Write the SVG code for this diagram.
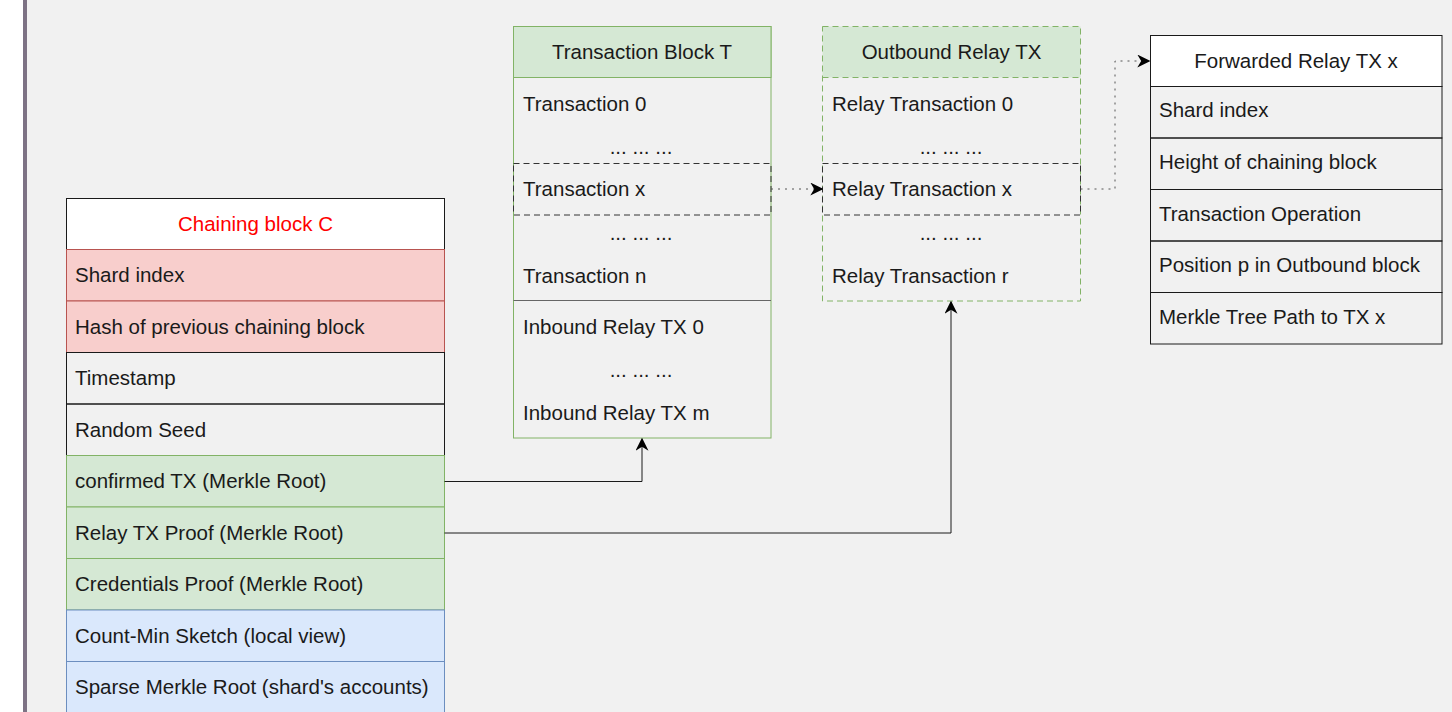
<svg xmlns="http://www.w3.org/2000/svg" width="1452" height="712" viewBox="0 0 1452 712">
  <defs>
    <style>
      text { font-family: "Liberation Sans", Arial, Helvetica, sans-serif; font-size: 20.5px; fill: #1a1a1a; dominant-baseline: central; }
      .mid { text-anchor: middle; }
      .red { fill: #f8cecc; stroke: #b85450; stroke-width: 1; }
      .green { fill: #d5e8d4; stroke: #82b366; stroke-width: 1; }
      .blue { fill: #dae8fc; stroke: #6c8ebf; stroke-width: 1; }
      .plain { fill: none; stroke: #1a1a1a; stroke-width: 1; }
      .white { fill: #ffffff; stroke: #1a1a1a; stroke-width: 1; }
      .sel { fill: none; stroke: #333333; stroke-width: 1; stroke-dasharray: 6 4; }
      .link { fill: none; stroke: #1a1a1a; stroke-width: 1; }
      .dot { fill: none; stroke: #555555; stroke-width: 1; stroke-dasharray: 2 5; }
    </style>
    <marker id="arrowBig" viewBox="0 0 10 10" refX="9" refY="5" markerWidth="13" markerHeight="13" markerUnits="userSpaceOnUse" orient="auto">
      <path d="M0,0 L10,5 L0,10 L3,5 Z" fill="#000000"/>
    </marker>
  </defs>

  <!-- page and side rule -->
  <rect x="0" y="0" width="1452" height="712" fill="#ffffff"/>
  <rect x="27" y="0" width="1425" height="712" fill="#f1f1f1"/>
  <rect x="23" y="0" width="4" height="712" fill="#7d7284"/>

  <!-- Chaining block -->
  <g id="chaining-block">
    <rect class="white" x="66.5" y="198.5" width="378" height="51"/>
    <text class="mid" x="255.5" y="223" style="fill:#ff0000">Chaining block C</text>
    <rect class="red" x="66.5" y="249.5" width="378" height="51.5"/>
    <text x="75" y="274.5">Shard index</text>
    <rect class="red" x="66.5" y="301" width="378" height="51.5"/>
    <text x="75" y="326">Hash of previous chaining block</text>
    <rect class="plain" x="66.5" y="352.5" width="378" height="51.5"/>
    <text x="75" y="377.5">Timestamp</text>
    <rect class="plain" x="66.5" y="404" width="378" height="51.5"/>
    <text x="75" y="429">Random Seed</text>
    <rect class="green" x="66.5" y="455.5" width="378" height="51.5"/>
    <text x="75" y="480.5">confirmed TX (Merkle Root)</text>
    <rect class="green" x="66.5" y="507" width="378" height="51.5"/>
    <text x="75" y="532">Relay TX Proof (Merkle Root)</text>
    <rect class="green" x="66.5" y="558.5" width="378" height="51.5"/>
    <text x="75" y="583.5">Credentials Proof (Merkle Root)</text>
    <rect class="blue" x="66.5" y="610" width="378" height="51.5"/>
    <text x="75" y="635">Count-Min Sketch (local view)</text>
    <rect class="blue" x="66.5" y="661.5" width="378" height="51.5"/>
    <text x="75" y="686.5">Sparse Merkle Root (shard's accounts)</text>
  </g>

  <!-- Transaction block -->
  <g id="transaction-block">
    <rect x="513.5" y="26.5" width="257.5" height="411.5" fill="none" stroke="#82b366"/>
    <rect class="green" x="513.5" y="26.5" width="257.5" height="51"/>
    <text class="mid" x="642" y="51">Transaction Block T</text>
    <text x="523" y="103">Transaction 0</text>
    <text class="mid" x="641" y="146">... ... ...</text>
    <rect class="sel" x="513.5" y="163.5" width="257.5" height="51.5"/>
    <text x="523" y="188.5">Transaction x</text>
    <text class="mid" x="641" y="232">... ... ...</text>
    <text x="523" y="275">Transaction n</text>
    <line x1="513.5" y1="300.5" x2="771" y2="300.5" stroke="#666666" stroke-width="1.2"/>
    <text x="523" y="326">Inbound Relay TX 0</text>
    <text class="mid" x="641" y="369">... ... ...</text>
    <text x="523" y="412">Inbound Relay TX m</text>
  </g>

  <!-- Outbound relay transactions -->
  <g id="outbound-relay">
    <rect x="822.5" y="26.5" width="258" height="51" fill="#d5e8d4" stroke="none"/>
    <rect x="822.5" y="26.5" width="258" height="274.5" fill="none" stroke="#82b366" stroke-dasharray="6 4"/>
    <line x1="822.5" y1="77.5" x2="1080.5" y2="77.5" stroke="#82b366" stroke-dasharray="6 4"/>
    <text class="mid" x="951.5" y="51">Outbound Relay TX</text>
    <text x="832" y="103">Relay Transaction 0</text>
    <text class="mid" x="951" y="146">... ... ...</text>
    <rect class="sel" x="822.5" y="163.5" width="258" height="51.5"/>
    <text x="832" y="188.5">Relay Transaction x</text>
    <text class="mid" x="951" y="232">... ... ...</text>
    <text x="832" y="275">Relay Transaction r</text>
  </g>

  <!-- Forwarded relay transaction -->
  <g id="forwarded-relay">
    <rect class="white" x="1150.5" y="35.5" width="291.5" height="51"/>
    <text class="mid" x="1296" y="60">Forwarded Relay TX x</text>
    <rect class="plain" x="1150.5" y="86.5" width="291.5" height="51.5"/>
    <text x="1159" y="109">Shard index</text>
    <rect class="plain" x="1150.5" y="138" width="291.5" height="51.5"/>
    <text x="1159" y="161">Height of chaining block</text>
    <rect class="plain" x="1150.5" y="189.5" width="291.5" height="51.5"/>
    <text x="1159" y="213">Transaction Operation</text>
    <rect class="plain" x="1150.5" y="241" width="291.5" height="51.5"/>
    <text x="1159" y="264">Position p in Outbound block</text>
    <rect class="plain" x="1150.5" y="292.5" width="291.5" height="51.5"/>
    <text x="1159" y="316">Merkle Tree Path to TX x</text>
  </g>

  <!-- Connectors -->
  <g id="connectors">
    <polyline class="link" points="444.5,481.5 642,481.5 642,439" marker-end="url(#arrowBig)"/>
    <polyline class="link" points="444.5,533 951,533 951,302" marker-end="url(#arrowBig)"/>
    <polyline class="dot" points="771,189 822,189" marker-end="url(#arrowBig)"/>
    <polyline class="dot" points="1080.5,189 1115,189 1115,61 1149,61" marker-end="url(#arrowBig)"/>
  </g>
</svg>
